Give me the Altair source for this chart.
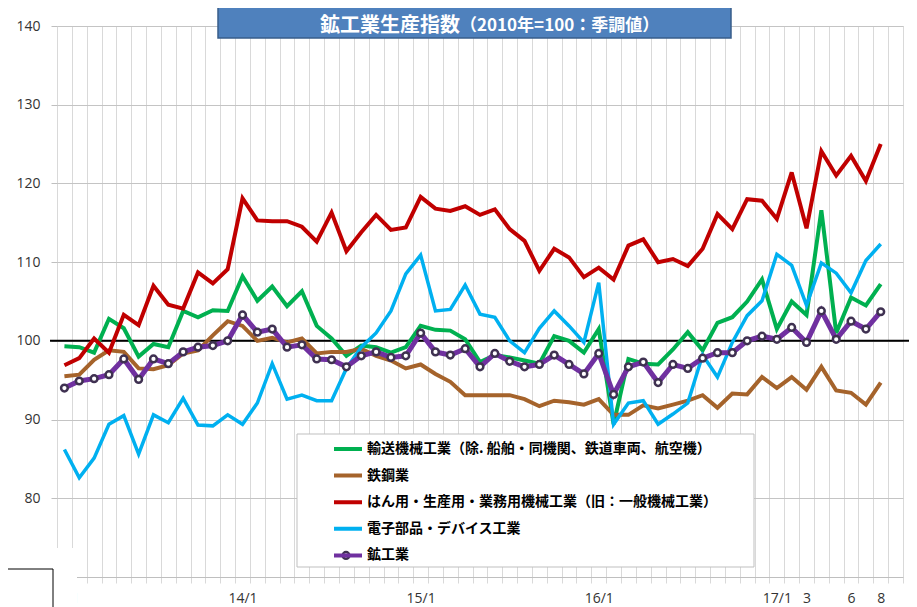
import altair as alt
import pandas as pd

# ---------------- data ----------------
month_index = list(range(56))  # 2013/1 ... 2017/8

series_names = [
    "輸送機械工業（除. 船舶・同機関、鉄道車両、航空機）",
    "鉄鋼業",
    "はん用・生産用・業務用機械工業（旧：一般機械工業）",
    "電子部品・デバイス工業",
    "鉱工業",
]
series_colors = ["#00B050", "#A5632B", "#C00000", "#00B0F0", "#7030A0"]
series_widths = [4, 4, 4, 3.5, 5]

transport = [99.3, 99.2, 98.5, 102.8, 101.6, 98.0, 99.6, 99.2, 103.8, 103.0, 103.9, 103.8, 108.2, 105.1,
             106.9, 104.4, 106.3, 101.9, 100.3, 98.1, 99.4, 99.2, 98.5, 99.2, 101.9, 101.4, 101.3, 100.2,
             97.3, 98.2, 97.9, 97.5, 97.1, 100.6, 100.0, 98.5, 101.5, 89.4, 97.7, 97.1, 97.0, 98.9,
             101.1, 98.8, 102.3, 103.0, 105.0, 107.8, 101.5, 105.0, 103.3, 116.6, 101.0, 105.5, 104.5, 107.2]
steel = [95.5, 95.7, 97.6, 98.8, 98.6, 96.5, 96.4, 96.9, 98.4, 98.8, 100.7, 102.5, 101.9, 100.0,
         100.4, 99.8, 100.3, 98.4, 98.6, 98.6, 99.0, 98.1, 97.5, 96.5, 97.0, 95.8, 94.8, 93.1,
         93.1, 93.1, 93.1, 92.6, 91.7, 92.4, 92.2, 91.9, 92.6, 90.6, 90.6, 91.8, 91.4, 91.9,
         92.4, 93.1, 91.5, 93.3, 93.2, 95.4, 94.0, 95.4, 93.8, 96.7, 93.7, 93.4, 91.9, 94.7]
machinery = [96.9, 97.8, 100.3, 98.5, 103.3, 102.0, 107.0, 104.6, 104.1, 108.7, 107.3, 109.1, 118.1, 115.3,
             115.2, 115.2, 114.5, 112.6, 116.3, 111.4, 113.8, 116.0, 114.1, 114.4, 118.3, 116.8, 116.5, 117.1,
             116.0, 116.7, 114.2, 112.7, 108.9, 111.7, 110.6, 108.1, 109.3, 107.8, 112.1, 112.9, 110.0, 110.4,
             109.5, 111.7, 116.1, 114.2, 118.0, 117.8, 115.5, 121.4, 114.3, 124.1, 121.0, 123.5, 120.3, 125.0]
electronics = [86.2, 82.6, 85.1, 89.4, 90.5, 85.6, 90.6, 89.6, 92.7, 89.3, 89.2, 90.6, 89.4, 92.1,
               97.1, 92.6, 93.1, 92.4, 92.4, 96.5, 99.2, 101.0, 103.8, 108.5, 110.9, 103.8, 104.0, 107.1,
               103.4, 103.0, 100.0, 98.5, 101.6, 103.8, 101.9, 99.8, 107.4, 89.4, 92.1, 92.4, 89.4, 90.7,
               92.1, 98.2, 95.4, 99.8, 103.2, 105.1, 111.0, 109.6, 104.5, 109.9, 108.6, 106.1, 110.2, 112.3]
mining = [94.0, 94.9, 95.2, 95.7, 97.7, 95.1, 97.7, 97.1, 98.6, 99.2, 99.4, 100.0, 103.3, 101.1,
          101.5, 99.2, 99.5, 97.7, 97.6, 96.7, 98.1, 98.6, 97.9, 98.1, 101.0, 98.6, 98.2, 99.0,
          96.7, 98.4, 97.4, 96.7, 97.0, 98.2, 97.0, 95.8, 98.4, 93.2, 96.7, 97.3, 94.7, 97.0,
          96.5, 97.8, 98.5, 98.5, 100.0, 100.6, 100.2, 101.7, 99.8, 103.8, 100.2, 102.5, 101.5, 103.7]

tick_idx = [0, 12, 24, 36, 48, 50, 53, 55]
tick_text = ["13/1", "14/1", "15/1", "16/1", "17/1", "3", "6", "8"]
y_ticks = [80, 90, 100, 110, 120, 130, 140]
baseline = 100

title_main = "鉱工業生産指数"
title_sub = "（2010年=100：季調値）"

# ---------------- build table ----------------
all_values = [transport, steel, machinery, electronics, mining]
rows = []
for name, vals in zip(series_names, all_values):
    for i, v in zip(month_index, vals):
        rows.append({"i": i, "series": name, "value": v})
df = pd.DataFrame(rows)

W, H = 846, 551
n_cat = 57
cat_w = W / n_cat

x_scale = alt.Scale(domain=[-0.5, n_cat - 0.5], nice=False, zero=False)
y_scale = alt.Scale(domain=[70, 140], nice=False, zero=False)

grid_vals = [k - 0.5 for k in range(n_cat + 1)]
label_expr = " : ".join(f"datum.value == {t - 0.5} ? '{s}'" for t, s in zip(tick_idx, tick_text)) + " : ''"

x_axis = alt.Axis(values=grid_vals, labelExpr=label_expr, labelOffset=cat_w / 2,
                  grid=True, gridColor="#d9d9d9", gridWidth=1,
                  ticks=True, tickColor="#d9d9d9", tickSize=6,
                  domain=True, domainColor="#bfbfbf",
                  labelFont="Open Sans", labelFontSize=14, labelColor="#333333",
                  labelPadding=8, labelOverlap=False, labelFlush=False, labelAngle=0,
                  labelBound=False, title=None)
y_axis = alt.Axis(values=y_ticks, grid=True, gridColor="#c4c4c4", gridWidth=1,
                  ticks=True, tickColor="#bfbfbf", tickSize=6, domain=False,
                  labelFont="Open Sans", labelFontSize=14, labelColor="#333333",
                  labelPadding=11, title=None)

# legend geometry
LEG_X, LEG_Y = 275, 415
ROW_H, ROW_PAD, SYM_LEN = 16, 10.6, 28

color = alt.Color("series:N",
                  scale=alt.Scale(domain=series_names, range=series_colors),
                  legend=alt.Legend(orient="none", legendX=LEG_X, legendY=LEG_Y, title=None,
                                    symbolType="stroke", symbolSize=SYM_LEN ** 2, symbolStrokeWidth=4,
                                    labelFont="Noto Sans CJK JP", labelFontSize=14,
                                    labelFontWeight="bold", labelColor="black", labelLimit=700,
                                    clipHeight=ROW_H, rowPadding=ROW_PAD, labelOffset=3,
                                    padding=0, symbolOffset=0))

one = pd.DataFrame({"k": [0]})

# decorations
legend_box = alt.Chart(one).mark_rect(fill="white", stroke="#bfbfbf", strokeWidth=1).encode(
    x=alt.value(240), x2=alt.value(697), y=alt.value(408), y2=alt.value(541))

base_rule = alt.Chart(pd.DataFrame({"y": [baseline]})).mark_rule(color="black", strokeWidth=2).encode(
    y=alt.Y("y:Q", scale=y_scale, axis=y_axis),
    x=alt.value(-7), x2=alt.value(W + 12))

line_layers = []
for name, w in zip(series_names, series_widths):
    line_layers.append(
        alt.Chart(df).transform_filter(alt.datum.series == name)
        .mark_line(strokeWidth=w, strokeJoin="miter", strokeMiterLimit=3)
        .encode(x=alt.X("i:Q", scale=x_scale, axis=x_axis),
                y=alt.Y("value:Q", scale=y_scale, axis=y_axis),
                color=color)
    )

marker_style = dict(shape="circle", filled=True, fill="white", stroke="#3F3151",
                    strokeWidth=2.5, size=45, opacity=1)
points = alt.Chart(df).transform_filter(alt.datum.series == series_names[-1]).mark_point(
    **marker_style).encode(
    x=alt.X("i:Q", scale=x_scale, axis=x_axis),
    y=alt.Y("value:Q", scale=y_scale, axis=y_axis))

# circle glyph on the 鉱工業 legend symbol
legend_marker = alt.Chart(one).mark_point(**marker_style).encode(
    x=alt.value(LEG_X + SYM_LEN / 2),
    y=alt.value(LEG_Y + 4 * (ROW_H + ROW_PAD) + ROW_H / 2))

title_box = alt.Chart(one).mark_rect(fill="#4F81BD", stroke="#385D8A", strokeWidth=1.5).encode(
    x=alt.value(161), x2=alt.value(674), y=alt.value(-24), y2=alt.value(12))
title_t1 = alt.Chart(one).mark_text(text=title_main, font="Noto Sans CJK JP", fontSize=20,
                                    fontWeight="bold", color="white", align="right",
                                    baseline="alphabetic").encode(x=alt.value(403), y=alt.value(6))
title_t2 = alt.Chart(one).mark_text(text=title_sub, font="Noto Sans CJK JP", fontSize=17,
                                    fontWeight="bold", color="white", align="left",
                                    baseline="alphabetic").encode(x=alt.value(403), y=alt.value(5))

corner_white = alt.Chart(one).mark_rect(fill="white").encode(
    x=alt.value(-60), x2=alt.value(20), y=alt.value(522), y2=alt.value(610))
corner_box = alt.Chart(one).mark_rect(fill="white", stroke="black", strokeWidth=1).encode(
    x=alt.value(-60), x2=alt.value(-4), y=alt.value(543), y2=alt.value(610))

chart = alt.layer(
    base_rule, *line_layers, points, legend_box, title_box, title_t1, title_t2,
    corner_white, corner_box, legend_marker
).properties(
    width=W, height=H,
    autosize=alt.AutoSizeParams(type="none"),
    padding={"left": 49, "top": 18, "right": 6, "bottom": 30},
).configure_view(stroke=None).configure(background="white")

chart.save("out.html", embed_options={"renderer": "svg", "actions": False})
